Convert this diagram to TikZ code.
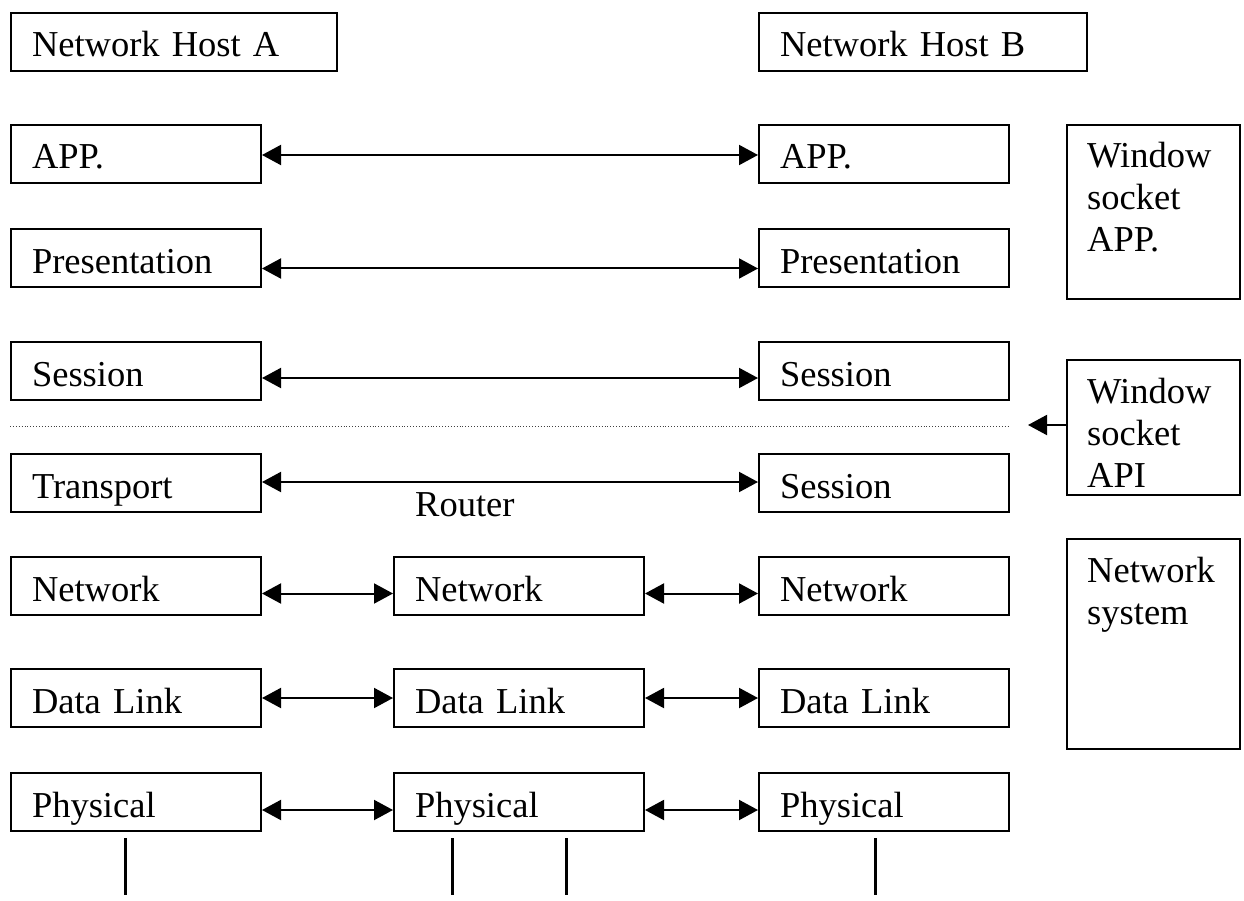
\documentclass[tikz,border=0pt]{standalone}
\usepackage{fontspec}
\setmainfont{Liberation Serif}
\usetikzlibrary{arrows.meta}
\begin{document}
\begin{tikzpicture}[x=1pt,y=-1pt,
  every node/.style={font=\fontsize{36.5}{42}\selectfont},
  osibox/.style={draw, line width=2pt, anchor=north west, minimum height=58pt,
    text width=#1, inner xsep=21pt, inner ysep=0pt, align=left,
    text height=30pt, text depth=0pt},
  osibox/.default=208pt,
  sidebox/.style={draw, line width=2pt, anchor=north west, minimum width=173pt, inner sep=0pt},
  sidetext/.style={anchor=north west, align=left, inner sep=0pt},
  conn/.style={{Triangle[length=19pt,width=20pt]}-{Triangle[length=19pt,width=20pt]}, line width=2pt},
  vline/.style={line width=3pt}
]
\useasboundingbox (0,0) rectangle (1244,901);

% host headers
\node[osibox=284pt] (hostA) at (10,12) {Network Host A};
\node[osibox=286pt] (hostB) at (758,12) {Network Host B};

% host A column
\node[osibox] (appA)   at (10,124) {APP.};
\node[osibox] (presA)  at (10,228) {Presentation};
\node[osibox] (sessA)  at (10,341) {Session};
\node[osibox] (transA) at (10,453) {Transport};
\node[osibox] (netA)   at (10,556) {Network};
\node[osibox] (dlA)    at (10,668) {Data Link};
\node[osibox] (physA)  at (10,772) {Physical};

% router column
\node[osibox] (netM)   at (393,556) {Network};
\node[osibox] (dlM)    at (393,668) {Data Link};
\node[osibox] (physM)  at (393,772) {Physical};

% host B column
\node[osibox] (appB)   at (758,124) {APP.};
\node[osibox] (presB)  at (758,228) {Presentation};
\node[osibox] (sessB)  at (758,341) {Session};
\node[osibox] (transB) at (758,453) {Session};
\node[osibox] (netB)   at (758,556) {Network};
\node[osibox] (dlB)    at (758,668) {Data Link};
\node[osibox] (physB)  at (758,772) {Physical};

\node[anchor=base west, inner sep=0pt] (router) at (415,516) {Router};

% side boxes
\node[sidebox, minimum height=174pt] (wapp) at (1066,124) {};
\node[sidetext] (wappt) at (1087,141.5) {Window\\socket\\APP.};
\node[sidebox, minimum height=135pt] (wapi) at (1066,359) {};
\node[sidetext] (wapit) at (1087,377.5) {Window\\socket\\API};
\node[sidebox, minimum height=210pt] (netsys) at (1066,538) {};
\node[sidetext] (netsyst) at (1087,556.5) {Network\\system};

% peer arrows
\draw[conn] ([yshift=-1pt]appA.east) -- ([yshift=-1pt]appB.west);
\draw[conn] ([yshift=-10.5pt]presA.east) -- ([yshift=-10.5pt]presB.west);
\draw[conn] ([yshift=-7pt]sessA.east) -- ([yshift=-7pt]sessB.west);
\draw[conn] ([yshift=1pt]transA.east) -- ([yshift=1pt]transB.west);
\draw[conn] ([yshift=-7.5pt]netA.east) -- ([yshift=-7.5pt]netM.west);
\draw[conn] ([yshift=-7.5pt]netM.east) -- ([yshift=-7.5pt]netB.west);
\draw[conn] (dlA.east) -- (dlM.west);
\draw[conn] (dlM.east) -- (dlB.west);
\draw[conn] ([yshift=-8pt]physA.east) -- ([yshift=-8pt]physM.west);
\draw[conn] ([yshift=-8pt]physM.east) -- ([yshift=-8pt]physB.west);

% API boundary
\coordinate (dotL) at (10,426);
\coordinate (dotR) at (1009,426);
\draw[dotted, line width=0.9pt, black!75] (dotL) -- (dotR);
\coordinate (apitip) at (1028,425);
\draw[-{Triangle[length=19pt,width=20pt]}, line width=2pt] (wapi.west |- apitip) -- (apitip);

% media lines
\coordinate (mA1) at (125,838);  \coordinate (mA2) at (125,895);
\coordinate (mM1) at (452,838);  \coordinate (mM2) at (452,895);
\coordinate (mN1) at (566,838);  \coordinate (mN2) at (566,895);
\coordinate (mB1) at (875,838);  \coordinate (mB2) at (875,895);
\draw[vline] (mA1) -- (mA2);
\draw[vline] (mM1) -- (mM2);
\draw[vline] (mN1) -- (mN2);
\draw[vline] (mB1) -- (mB2);
\end{tikzpicture}
\end{document}
